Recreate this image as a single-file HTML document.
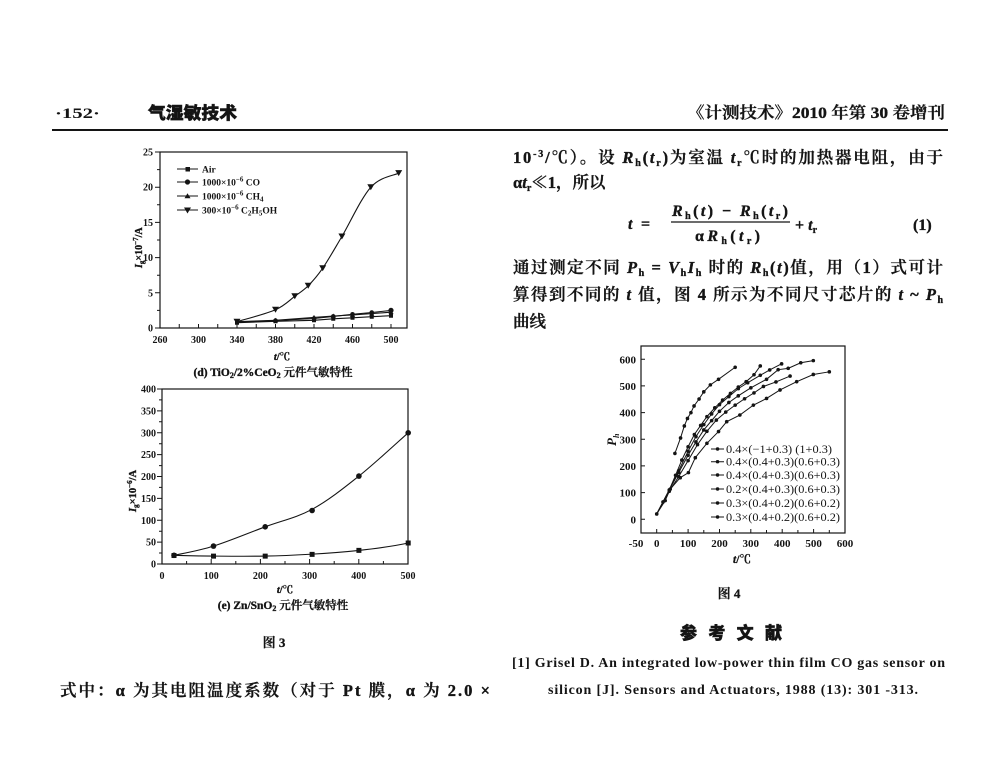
<!DOCTYPE html>
<html><head><meta charset="utf-8"><style>
html,body{margin:0;padding:0;background:#fff;}
svg{display:block;}
.s{font-family:"Liberation Serif","Noto Serif CJK SC",serif;fill:#141414;}
.b{font-weight:bold;}
.m{font-weight:600;stroke:#141414;stroke-width:0.35;}
.h{font-family:"Liberation Serif","Noto Sans CJK SC",sans-serif;font-weight:900;fill:#141414;stroke:#141414;stroke-width:0.5;}
.i{font-style:italic;}
</style></head><body>
<svg width="1000" height="760" viewBox="0 0 1000 760" xmlns="http://www.w3.org/2000/svg">
<rect width="1000" height="760" fill="#fff"/>

<!-- Header -->
<text class="s b" x="55" y="118" font-size="15" textLength="45" lengthAdjust="spacingAndGlyphs">·152·</text>
<text class="h" x="148" y="119" font-size="17" textLength="89" lengthAdjust="spacingAndGlyphs">气湿敏技术</text>
<text class="s m" x="687" y="118" font-size="16" textLength="258" lengthAdjust="spacingAndGlyphs">《计测技术》2010 年第 30 卷增刊</text>
<line x1="52" y1="130" x2="948" y2="130" stroke="#141414" stroke-width="2"/>

<!-- Right column text -->
<text class="s m" x="513" y="163" font-size="16.5" textLength="430" lengthAdjust="spacing">10<tspan font-size="10" dy="-6">-3</tspan><tspan dy="6">/℃）。设 </tspan><tspan class="i">R</tspan><tspan font-size="10" dy="3">h</tspan><tspan dy="-3">(</tspan><tspan class="i">t</tspan><tspan font-size="10" dy="3">r</tspan><tspan dy="-3">)为室温 </tspan><tspan class="i">t</tspan><tspan font-size="10" dy="3">r</tspan><tspan dy="-3">℃时的加热器电阻，由于</tspan></text>
<text class="s m" x="513" y="188" font-size="16.5">α<tspan class="i">t</tspan><tspan font-size="10" dy="3">r</tspan><tspan dy="-3">≪1，所以</tspan></text>

<!-- Equation -->
<text class="s m i" x="628" y="229" font-size="16">t</text>
<text class="s m" x="641" y="229" font-size="16">=</text>
<text class="s m" x="672" y="216" font-size="16" textLength="116" lengthAdjust="spacing"><tspan class="i">R</tspan><tspan font-size="10" dy="3">h</tspan><tspan dy="-3">(</tspan><tspan class="i">t</tspan><tspan>) − </tspan><tspan class="i">R</tspan><tspan font-size="10" dy="3">h</tspan><tspan dy="-3">(</tspan><tspan class="i">t</tspan><tspan font-size="10" dy="3">r</tspan><tspan dy="-3">)</tspan></text>
<line x1="671" y1="222" x2="790" y2="222" stroke="#141414" stroke-width="1.2"/>
<text class="s m" x="695" y="241" font-size="16" textLength="65" lengthAdjust="spacing">α<tspan class="i">R</tspan><tspan font-size="10" dy="3">h</tspan><tspan dy="-3">(</tspan><tspan class="i">t</tspan><tspan font-size="10" dy="3">r</tspan><tspan dy="-3">)</tspan></text>
<text class="s m" x="795" y="230" font-size="16">+ <tspan class="i">t</tspan><tspan font-size="10" dy="3">r</tspan></text>
<text class="s m" x="913" y="230" font-size="16">(1)</text>

<text class="s m" x="513" y="273" font-size="16.5" textLength="430" lengthAdjust="spacing">通过测定不同 <tspan class="i">P</tspan><tspan font-size="10" dy="3">h</tspan><tspan dy="-3"> = </tspan><tspan class="i">V</tspan><tspan font-size="10" dy="3">h</tspan><tspan class="i" dy="-3">I</tspan><tspan font-size="10" dy="3">h</tspan><tspan dy="-3"> 时的 </tspan><tspan class="i">R</tspan><tspan font-size="10" dy="3">h</tspan><tspan dy="-3">(</tspan><tspan class="i">t</tspan><tspan>)值，用（1）式可计</tspan></text>
<text class="s m" x="513" y="300" font-size="16.5" textLength="430" lengthAdjust="spacing">算得到不同的 <tspan class="i">t</tspan><tspan> 值，图 4 所示为不同尺寸芯片的 </tspan><tspan class="i">t</tspan><tspan> ~ </tspan><tspan class="i">P</tspan><tspan font-size="10" dy="3">h</tspan></text>
<text class="s m" x="513" y="327" font-size="16.5">曲线</text>

<!-- Figure 4 -->
<g stroke="#141414" fill="none">
<rect x="641" y="346" width="204" height="187" stroke-width="1.2"/>
<path stroke-width="1" d="M641,519.3h4M641,492.6h4M641,465.9h4M641,439.3h4M641,412.6h4M641,385.9h4M641,359.3h4
M656.7,533v-4M672.4,533v-3M688.1,533v-4M703.8,533v-3M719.5,533v-4M735.2,533v-3M750.8,533v-4M766.5,533v-3M782.2,533v-4M797.9,533v-3M813.6,533v-4M829.3,533v-3"/>
</g>
<g class="s b" font-size="11" text-anchor="end">
<text x="636" y="363.3">600</text><text x="636" y="390">500</text><text x="636" y="416.6">400</text><text x="636" y="443.3">300</text><text x="636" y="470">200</text><text x="636" y="496.6">100</text><text x="636" y="523.3">0</text>
</g>
<g class="s b" font-size="11" text-anchor="middle">
<text x="636" y="547">-50</text><text x="656.7" y="547">0</text><text x="688.1" y="547">100</text><text x="719.5" y="547">200</text><text x="750.8" y="547">300</text><text x="782.2" y="547">400</text><text x="813.6" y="547">500</text><text x="845" y="547">600</text>
</g>
<text class="s m" x="742" y="563" font-size="11.5" text-anchor="middle"><tspan class="i">t</tspan>/℃</text>
<text class="s b i" transform="translate(616,446) rotate(-90)" font-size="13">P<tspan font-size="8" dy="3">h</tspan></text>

<g transform="translate(656.7,519.3) scale(0.3138,-0.2667)" fill="none" stroke="#141414">
<g stroke-width="1" vector-effect="non-scaling-stroke">
<polyline vector-effect="non-scaling-stroke" points="58,247 76,305 88,350 98,378 109,400 119,425 135,451 150,478 171,504 197,525 250,570"/>
<polyline vector-effect="non-scaling-stroke" points="0,20 20,65 40,110 60,165 80,222 100,272 120,318 140,352 160,385 185,418 210,447 235,472 260,496 285,516 310,542 330,575"/>
<polyline vector-effect="non-scaling-stroke" points="0,20 40,110 70,182 100,255 125,310 150,355 175,395 200,430 230,460 260,490 290,512 330,540 360,560 398,583"/>
<polyline vector-effect="non-scaling-stroke" points="0,20 40,110 70,175 100,240 125,290 150,335 175,370 200,405 230,438 260,463 300,493 350,525 387,561 419,566 459,587 499,595"/>
<polyline vector-effect="non-scaling-stroke" points="0,20 40,105 70,160 100,220 130,280 160,330 190,372 220,402 250,428 280,452 310,474 340,498 380,515 425,537"/>
<polyline vector-effect="non-scaling-stroke" points="0,20 27,70 43,113 75,156 101,175 123,231 160,285 197,329 223,366 265,391 308,428 350,453 393,485 446,516 499,543 550,553"/>
</g>
<path vector-effect="non-scaling-stroke" stroke-width="3.6" stroke-linecap="round" d="M58,247h.1M76,305h.1M88,350h.1M98,378h.1M109,400h.1M119,425h.1M135,451h.1M150,478h.1M171,504h.1M197,525h.1M250,570h.1
M0,20h.1M20,65h.1M40,110h.1M60,165h.1M80,222h.1M100,272h.1M120,318h.1M140,352h.1M160,385h.1M185,418h.1M210,447h.1M235,472h.1M260,496h.1M285,516h.1M310,542h.1M330,575h.1
M70,182h.1M100,255h.1M125,310h.1M150,355h.1M175,395h.1M200,430h.1M230,460h.1M260,490h.1M290,512h.1M330,540h.1M360,560h.1M398,583h.1
M70,175h.1M100,240h.1M125,290h.1M150,335h.1M175,370h.1M200,405h.1M230,438h.1M260,463h.1M300,493h.1M350,525h.1M387,561h.1M419,566h.1M459,587h.1M499,595h.1
M40,105h.1M70,160h.1M100,220h.1M130,280h.1M160,330h.1M190,372h.1M220,402h.1M250,428h.1M280,452h.1M310,474h.1M340,498h.1M380,515h.1M425,537h.1
M27,70h.1M43,113h.1M75,156h.1M101,175h.1M123,231h.1M160,285h.1M197,329h.1M223,366h.1M265,391h.1M308,428h.1M350,453h.1M393,485h.1M446,516h.1M499,543h.1M550,553h.1"/>
</g>
<!-- legend fig 4 -->
<g stroke="#141414" stroke-width="1">
<path d="M711,449h13M711,461.7h13M711,475h13M711,489h13M711,503h13M711,517h13"/>
<path stroke-width="3.4" stroke-linecap="round" d="M717.5,449h.1M717.5,461.7h.1M717.5,475h.1M717.5,489h.1M717.5,503h.1M717.5,517h.1"/>
</g>
<g class="s" font-size="12" font-weight="500">
<text x="726" y="453" textLength="106" lengthAdjust="spacingAndGlyphs">0.4×(−1+0.3) (1+0.3)</text>
<text x="726" y="465.7" textLength="114" lengthAdjust="spacingAndGlyphs">0.4×(0.4+0.3)(0.6+0.3)</text>
<text x="726" y="479" textLength="114" lengthAdjust="spacingAndGlyphs">0.4×(0.4+0.3)(0.6+0.3)</text>
<text x="726" y="493" textLength="114" lengthAdjust="spacingAndGlyphs">0.2×(0.4+0.3)(0.6+0.3)</text>
<text x="726" y="507" textLength="114" lengthAdjust="spacingAndGlyphs">0.3×(0.4+0.2)(0.6+0.2)</text>
<text x="726" y="521" textLength="114" lengthAdjust="spacingAndGlyphs">0.3×(0.4+0.2)(0.6+0.2)</text>
</g>

<text class="s b m" x="729" y="598" font-size="13" text-anchor="middle">图 4</text>
<text class="h" x="680" y="639" font-size="17" textLength="102" lengthAdjust="spacing">参考文献</text>
<text class="s b" x="512" y="667" font-size="14" textLength="433" lengthAdjust="spacing">[1] Grisel D. An integrated low-power thin film CO gas sensor on</text>
<text class="s b" x="548" y="694" font-size="14" textLength="370" lengthAdjust="spacing">silicon [J]. Sensors and Actuators, 1988 (13): 301 -313.</text>

<!-- Figure 3 (d) -->
<g stroke="#141414" fill="none">
<rect x="160" y="152" width="247" height="176" stroke-width="1.2"/>
<path stroke-width="1" d="M155,328h5M157,310.4h3M155,292.8h5M157,275.2h3M155,257.6h5M157,240h3M155,222.4h5M157,204.8h3M155,187.2h5M157,169.6h3M155,152h5
M179.25,328v-4M198.5,328v-4M217.75,328v-4M237,328v-4M256.25,328v-4M275.5,328v-4M294.75,328v-4M314,328v-4M333.25,328v-4M352.5,328v-4M371.75,328v-4M391,328v-4"/>
</g>
<g class="s b" font-size="10" text-anchor="end">
<text x="153" y="331.5">0</text><text x="153" y="296.3">5</text><text x="153" y="261.1">10</text><text x="153" y="225.9">15</text><text x="153" y="190.7">20</text><text x="153" y="155.5">25</text>
</g>
<g class="s b" font-size="10" text-anchor="middle">
<text x="160" y="343">260</text><text x="198.5" y="343">300</text><text x="237" y="343">340</text><text x="275.5" y="343">380</text><text x="314" y="343">420</text><text x="352.5" y="343">460</text><text x="391" y="343">500</text>
</g>
<text class="s m" transform="translate(142,268) rotate(-90)" font-size="10"><tspan class="i">I</tspan><tspan font-size="7" dy="2">g</tspan><tspan dy="-2">×10</tspan><tspan font-size="7" dy="-4">−7</tspan><tspan dy="4">/A</tspan></text>
<g fill="none" stroke="#141414" stroke-width="1.1">
<polyline points="237,322.7 275.5,321.3 314,320.3 333.25,318.8 352.5,317.8 371.75,316.7 391,315.7"/>
<polyline points="237,322.0 275.5,320.6 314,318.5 333.25,316.4 352.5,314.3 371.75,312.5 391,310.4"/>
<polyline points="237,321.7 275.5,320.3 314,317.4 333.25,316.0 352.5,315.0 371.75,313.6 391,312.2"/>
<path d="M237,321.7 C243.4,319.7 265.9,313.9 275.5,309.7 C285.1,305.5 289.3,300.3 294.8,296.3 C300.2,292.3 303.6,290.5 308.2,285.8 C312.8,281.1 317.1,276.4 322.7,268.2 C328.3,260 333.9,250 341.9,236.5 C349.9,223 361.3,197.8 370.8,187.2 C380.3,176.6 394.1,175.5 398.7,173.1"/>
<path d="M177,169h21M177,182h21M177,196h21M177,210h21"/>
</g>
<g fill="#141414">
<path d="M235,320.7h4v4h-4zM273.5,319.3h4v4h-4zM312,318.3h4v4h-4zM331.25,316.8h4v4h-4zM350.5,315.8h4v4h-4zM369.75,314.7h4v4h-4zM389,313.7h4v4h-4zM185.5,167h4.5v4.5h-4.5z"/>
<circle cx="275.5" cy="320.6" r="2.3"/><circle cx="314" cy="318.5" r="2.3"/><circle cx="333.25" cy="316.4" r="2.3"/><circle cx="352.5" cy="314.3" r="2.3"/><circle cx="371.75" cy="312.5" r="2.3"/><circle cx="391" cy="310.4" r="2.6"/><circle cx="187.5" cy="182" r="2.6"/>
<path d="M275.5,317.8l2.6,4.4h-5.2zM314,314.9l2.6,4.4h-5.2zM333.25,313.5l2.6,4.4h-5.2zM352.5,312.5l2.6,4.4h-5.2zM371.75,311.1l2.6,4.4h-5.2zM391,309.7l2.6,4.4h-5.2zM187.5,193.2l3,5h-6z"/>
<path d="M233.5,318.7h7l-3.5,6zM272,306.7h7l-3.5,6zM291.3,293.3h7l-3.5,6zM304.7,282.8h7l-3.5,6zM319.2,265.2h7l-3.5,6zM338.4,233.5h7l-3.5,6zM367.3,184.2h7l-3.5,6zM395.2,170.1h7l-3.5,6zM184,207.5h7l-3.5,6z"/>
</g>
<g class="s b" font-size="9.5">
<text x="202" y="172.5">Air</text>
<text x="202" y="185.5">1000×10<tspan font-size="7" dy="-4">−6</tspan><tspan dy="4"> CO</tspan></text>
<text x="202" y="199.5">1000×10<tspan font-size="7" dy="-4">−6</tspan><tspan dy="4"> CH</tspan><tspan font-size="7" dy="2">4</tspan></text>
<text x="202" y="213.5">300×10<tspan font-size="7" dy="-4">−6</tspan><tspan dy="4"> C</tspan><tspan font-size="7" dy="2">2</tspan><tspan dy="-2">H</tspan><tspan font-size="7" dy="2">5</tspan><tspan dy="-2">OH</tspan></text>
</g>
<text class="s m" x="282" y="360" font-size="10.5" text-anchor="middle"><tspan class="i">t</tspan>/℃</text>
<text class="s m" x="273" y="376" font-size="11.5" text-anchor="middle">(d) TiO<tspan font-size="8" dy="2">2</tspan><tspan dy="-2">/2%CeO</tspan><tspan font-size="8" dy="2">2</tspan><tspan dy="-2"> 元件气敏特性</tspan></text>

<!-- Figure 3 (e) -->
<g stroke="#141414" fill="none">
<rect x="162" y="389" width="246" height="175" stroke-width="1.2"/>
<path stroke-width="1" d="M157,564h5M159,553.06h3M157,542.1h5M159,531.2h3M157,520.25h5M159,509.3h3M157,498.4h5M159,487.4h3M157,476.5h5M159,465.6h3M157,454.6h5M159,443.7h3M157,432.75h5M159,421.8h3M157,410.9h5M159,399.9h3M157,389h5
M186.6,564v-3M211.2,564v-5M235.8,564v-3M260.4,564v-5M285,564v-3M309.6,564v-5M334.2,564v-3M358.8,564v-5M383.4,564v-3"/>
</g>
<g class="s b" font-size="10" text-anchor="end">
<text x="156" y="567.5">0</text><text x="156" y="545.6">50</text><text x="156" y="523.75">100</text><text x="156" y="501.9">150</text><text x="156" y="480">200</text><text x="156" y="458.1">250</text><text x="156" y="436.25">300</text><text x="156" y="414.4">350</text><text x="156" y="392.5">400</text>
</g>
<g class="s b" font-size="10" text-anchor="middle">
<text x="162" y="579">0</text><text x="211.2" y="579">100</text><text x="260.4" y="579">200</text><text x="309.6" y="579">300</text><text x="358.8" y="579">400</text><text x="408" y="579">500</text>
</g>
<text class="s m" transform="translate(136,512) rotate(-90)" font-size="10.5"><tspan class="i">I</tspan><tspan font-size="7" dy="2">g</tspan><tspan dy="-2">×10</tspan><tspan font-size="7" dy="-4">−6</tspan><tspan dy="4">/A</tspan></text>
<g fill="none" stroke="#141414" stroke-width="1.1">
<path d="M174,555.3 C180.6,553.8 198.3,550.9 213.5,546.1 C228.7,541.35 248.8,532.9 265.2,526.8 C281.6,520.7 296.5,517.75 312.1,509.3 C327.7,500.85 342.9,488.85 358.9,476.1 C374.9,463.35 400,440 408.2,432.8"/>
<path d="M174,555.3 C195,556 240,556.5 265.2,556.1 C290,555.7 330,553.5 358.9,550.4 C380,548 395,546 408.2,543"/>
</g>
<g fill="#141414">
<circle cx="174" cy="555.3" r="2.8"/><circle cx="213.5" cy="546.1" r="2.8"/><circle cx="265.2" cy="526.8" r="2.8"/><circle cx="312.1" cy="510.5" r="2.8"/><circle cx="358.9" cy="476.1" r="2.8"/><circle cx="408.2" cy="432.8" r="2.8"/>
<path d="M171.5,553h5v5h-5zM211,553.6h5v5h-5zM262.7,553.6h5v5h-5zM309.6,551.9h5v5h-5zM356.4,547.9h5v5h-5zM405.7,540.5h5v5h-5z"/>
</g>
<text class="s m" x="285" y="593" font-size="10.5" text-anchor="middle"><tspan class="i">t</tspan>/℃</text>
<text class="s m" x="283" y="609" font-size="11.5" text-anchor="middle">(e) Zn/SnO<tspan font-size="8" dy="2">2</tspan><tspan dy="-2"> 元件气敏特性</tspan></text>

<text class="s b m" x="274" y="647" font-size="13" text-anchor="middle">图 3</text>
<text class="s m" x="60" y="696" font-size="16.5" textLength="430" lengthAdjust="spacing">式中：α 为其电阻温度系数（对于 Pt 膜，α 为 2.0 ×</text>
</svg>
</body></html>
